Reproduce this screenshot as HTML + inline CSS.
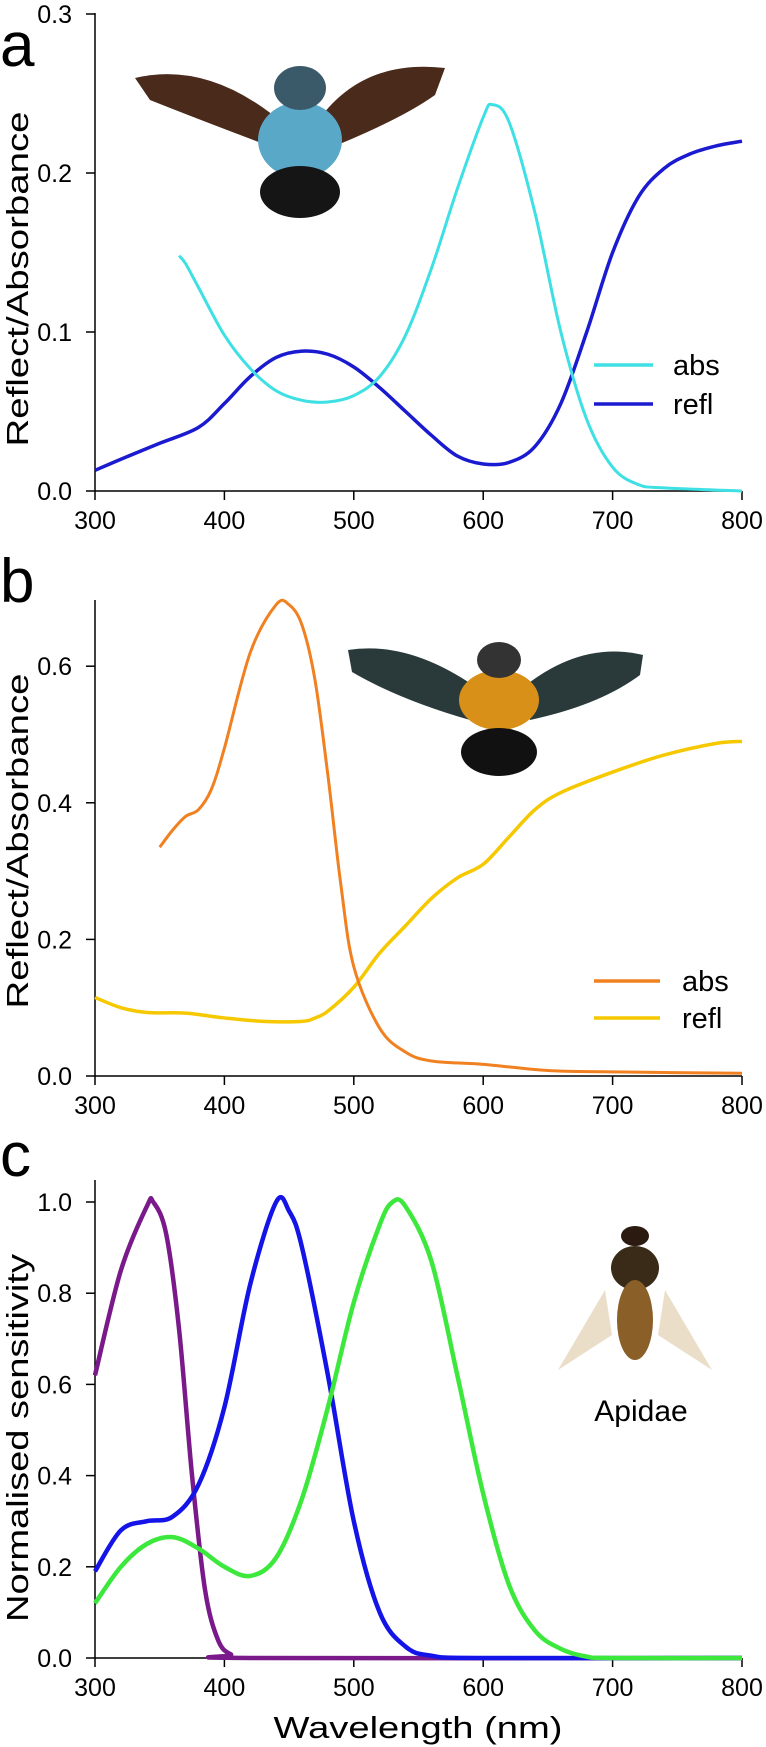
<!DOCTYPE html>
<html><head><meta charset="utf-8"><style>
body{margin:0;background:#fff}svg{display:block;font-family:"Liberation Sans",sans-serif}
</style></head><body>
<svg id="s" width="766" height="1747">
<g>
<path d="M135,78 Q210,60 285,125 L280,150 Q200,120 150,100Z" fill="#4a2a1a"/>
<path d="M445,68 Q360,58 315,125 L325,150 Q400,120 435,95Z" fill="#4a2a1a"/>
<ellipse cx="300" cy="140" rx="42" ry="38" fill="#5aa8c8"/>
<ellipse cx="300" cy="192" rx="40" ry="26" fill="#151515"/>
<ellipse cx="300" cy="88" rx="26" ry="22" fill="#3a5a6a"/>
</g>
<g>
<path d="M348,650 Q410,640 480,690 L470,720 Q400,700 352,672Z" fill="#2a3a3a"/>
<path d="M643,655 Q580,640 520,690 L530,720 Q600,705 640,675Z" fill="#2a3a3a"/>
<ellipse cx="499" cy="700" rx="40" ry="30" fill="#d89018"/>
<ellipse cx="499" cy="752" rx="38" ry="24" fill="#111"/>
<ellipse cx="499" cy="660" rx="22" ry="18" fill="#333"/>
</g>
<g>
<path d="M605,1290 L558,1370 L612,1335Z" fill="#e8d8c0" opacity="0.85"/>
<path d="M665,1290 L712,1370 L658,1335Z" fill="#e8d8c0" opacity="0.85"/>
<ellipse cx="635" cy="1268" rx="24" ry="22" fill="#3a2a18"/>
<ellipse cx="635" cy="1320" rx="18" ry="40" fill="#8a6028"/>
<ellipse cx="635" cy="1236" rx="14" ry="10" fill="#2a1a10"/>
</g>
<text x="641" y="1421" font-size="30" text-anchor="middle">Apidae</text>
</svg>
<script>
const wl=[300,400,500,600,700,800];
const aTicks=[0,0.1,0.2,0.3],bTicks=[0,0.2,0.4,0.6],cTicks=[0,0.2,0.4,0.6,0.8,1.0];
const aReflX=[300,320,350,380,400,420,440,460,480,500,520,540,560,580,600,620,640,660,680,700,720,740,760,780,800];
const aReflY=[0.013,0.02,0.03,0.04,0.055,0.072,0.084,0.088,0.086,0.078,0.065,0.05,0.035,0.022,0.017,0.018,0.028,0.055,0.1,0.15,0.185,0.203,0.212,0.217,0.22];
const aAbsX=[365,370,380,400,420,440,460,480,500,520,540,560,580,600,607,620,640,660,680,700,720,740,800];
const aAbsY=[0.148,0.143,0.128,0.098,0.077,0.063,0.057,0.056,0.06,0.072,0.098,0.14,0.19,0.235,0.243,0.232,0.175,0.1,0.045,0.015,0.004,0.002,0];
const bAbsX=[350,360,370,380,390,400,420,440,450,460,470,480,490,500,520,540,560,600,650,700,800];
const bAbsY=[0.335,0.36,0.38,0.39,0.42,0.48,0.62,0.69,0.69,0.66,0.58,0.44,0.28,0.16,0.07,0.035,0.022,0.017,0.008,0.006,0.004];
const bReflX=[300,320,340,370,400,430,460,470,480,500,520,540,560,580,600,620,640,660,700,740,780,800];
const bReflY=[0.115,0.1,0.093,0.092,0.085,0.08,0.08,0.085,0.095,0.13,0.18,0.22,0.26,0.29,0.31,0.35,0.39,0.415,0.445,0.47,0.487,0.49];
const cUvX=[300,320,340,345,355,365,375,385,395,405,420,800];
const cUvY=[0.62,0.85,0.99,1.0,0.93,0.72,0.4,0.15,0.04,0.008,0,0];
const cBlX=[300,320,340,360,380,400,420,440,450,460,480,500,520,540,560,600,800];
const cBlY=[0.19,0.28,0.3,0.31,0.38,0.55,0.82,1.0,0.98,0.9,0.62,0.3,0.1,0.025,0.005,0,0];
const cGrX=[300,320,340,360,380,400,420,440,460,480,500,520,530,540,560,580,600,620,640,660,680,700,800];
const cGrY=[0.12,0.2,0.25,0.265,0.24,0.2,0.18,0.22,0.35,0.55,0.78,0.95,1.0,0.99,0.87,0.62,0.36,0.16,0.06,0.02,0.003,0,0];
const NS='http://www.w3.org/2000/svg',svg=document.getElementById('s');
function mk(t,a,p){const e=document.createElementNS(NS,t);for(const k in a)e.setAttribute(k,a[k]);(p||svg).appendChild(e);return e;}
const X=v=>95+(v-300)*1.294;
function panel(id,y0,yPer,top,ticks,title,ty,tlen,letterY){
 const Y=v=>y0-v*yPer;
 const g=mk('g',{});
 
 
 mk('line',{x1:95,y1:top,x2:95,y2:y0,stroke:'#000','stroke-width':1.5},g);
 mk('line',{x1:95,y1:y0,x2:742,y2:y0,stroke:'#000','stroke-width':1.5},g);
 ticks.forEach(t=>{mk('line',{x1:86,y1:Y(t),x2:95,y2:Y(t),stroke:'#000','stroke-width':1.5},g);
  const tx=mk('text',{x:72,y:Y(t)+9,'font-size':25,'text-anchor':'end'},g);tx.textContent=t.toFixed(1);
  
  });
 wl.forEach(w=>{mk('line',{x1:X(w),y1:y0,x2:X(w),y2:y0+9,stroke:'#000','stroke-width':1.5},g);
  const tx=mk('text',{x:X(w),y:y0+38,'font-size':25,'text-anchor':'middle'},g);tx.textContent=w;
  
  });
 const yt=mk('text',{x:0,y:0,'font-size':31,'text-anchor':'middle',textLength:tlen,lengthAdjust:'spacingAndGlyphs',transform:`translate(28,${ty}) rotate(-90)`},g);yt.textContent=title;
 
 
 const L=mk('text',{x:0,y:letterY,'font-size':62},g);L.textContent=id;
 
 
 return Y;
}
function curve(xs,ys,Y,col,name,w){
 const p=xs.map((x,i)=>[X(x),Y(ys[i])]);let d='M'+p[0];
 for(let i=0;i<p.length-1;i++){const p0=p[i-1]||p[i],p1=p[i],p2=p[i+1],p3=p[i+2]||p2;
  d+=`C${p1[0]+(p2[0]-p0[0])/6},${p1[1]+(p2[1]-p0[1])/6} ${p2[0]-(p3[0]-p1[0])/6},${p2[1]-(p3[1]-p1[1])/6} ${p2[0]},${p2[1]}`;}
 const e=mk('path',{d:d,fill:'none',stroke:col,'stroke-width':w});
 
 
}
function legend(items,x,x2,tx0,y,gap){items.forEach(([c,t],i)=>{
 mk('line',{x1:x,y1:y+i*gap,x2:x2,y2:y+i*gap,stroke:c,'stroke-width':3.5});
 const tx=mk('text',{x:tx0,y:y+i*gap+10,'font-size':29});tx.textContent=t;
 
 });}
const Ya=panel('a',491,1590,13,aTicks,'Reflect/Absorbance',279,335,66);
curve(aReflX,aReflY,Ya,'#1a1ad0','refl-line-a',3.5);curve(aAbsX,aAbsY,Ya,'#3ee0e4','abs-line-a',3);
legend([['#3ee0e4','abs'],['#1a1ad0','refl']],594,653,673,365,39);
const Yb=panel('b',1076,683,600,bTicks,'Reflect/Absorbance',841,335,602);
curve(bReflX,bReflY,Yb,'#f5c800','refl-line-b',3.5);curve(bAbsX,bAbsY,Yb,'#f08020','abs-line-b',3);
legend([['#f08020','abs'],['#f5c800','refl']],594,660,682,981,37);
const Yc=panel('c',1658,456,1180,cTicks,'Normalised sensitivity',1438,368,1176);
curve(cUvX,cUvY,Yc,'#7a1a8a','uv-receptor-line',4.5);curve(cBlX,cBlY,Yc,'#1414e8','blue-receptor-line',4.5);curve(cGrX,cGrY,Yc,'#3ce83c','green-receptor-line',4.5);
const xt=mk('text',{x:418,y:1738,'font-size':31,'text-anchor':'middle',textLength:289,lengthAdjust:'spacingAndGlyphs'});xt.textContent='Wavelength (nm)';


</script>
</body></html>
